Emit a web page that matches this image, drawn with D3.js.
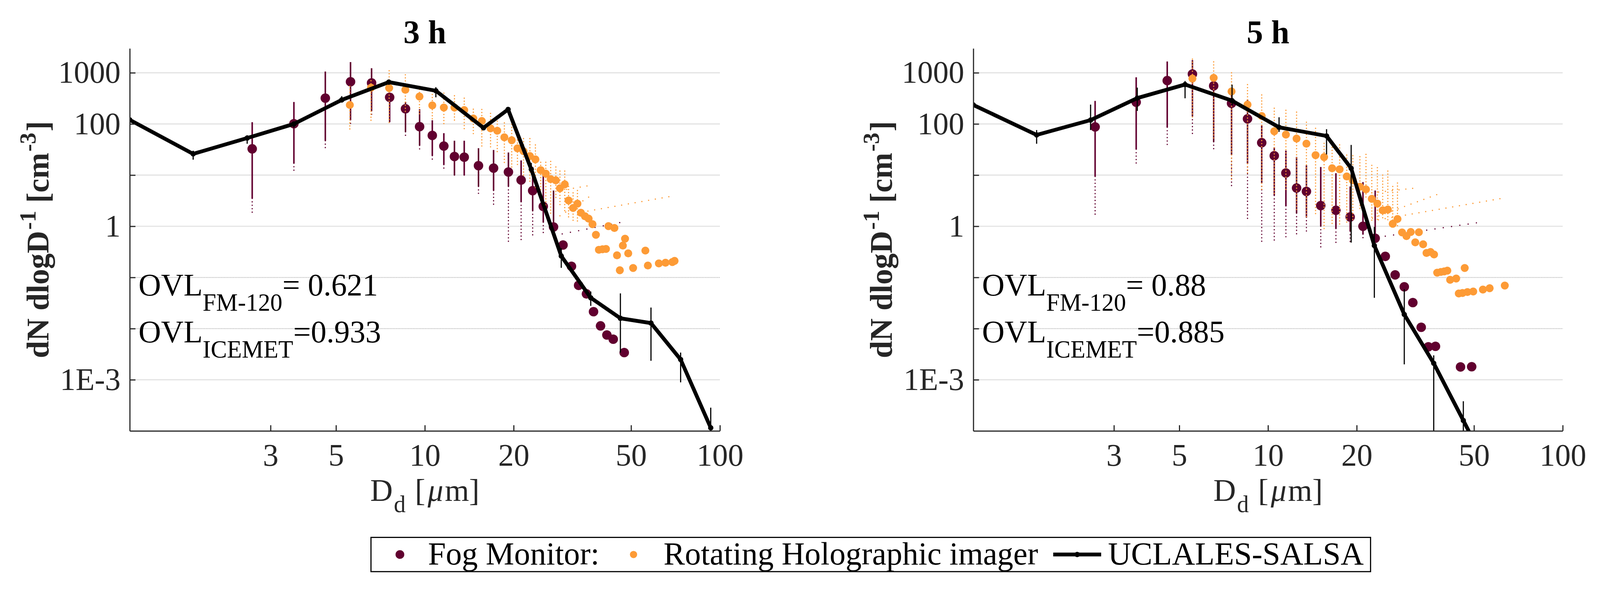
<!DOCTYPE html>
<html>
<head>
<meta charset="utf-8">
<script src="https://cdn.jsdelivr.net/npm/d3@7"></script>
<style>
  html, body { margin: 0; padding: 0; overflow: hidden; background: #fff; }
  #chart { display: block; width: 100vw; height: 100vh; }
  text { font-family: "Liberation Serif", "Times New Roman", serif; }
</style>
</head>
<body>
<svg id="chart"></svg>
<script>
// Figure size (matches the reference picture)
const WIDTH = 4205
const HEIGHT = 1519

// Plot box, shared vertical extent
const TOP = 107
const BOTTOM = 1113

// ---- UCLALES-SALSA model (diameters in um, dN/dlogD in cm^-3)
const salsaD = [1, 1.64, 2.5, 3.6, 5.23, 7.55, 10.9, 15.8, 19.15, 22.95, 29.0, 36.5, 46.0, 58.4, 73.6, 93.1]
const salsa3h = [120, 26, 53, 100, 295, 657, 445, 84, 192, 12.96, 0.262, 0.040, 0.0159, 0.0128, 0.00249, 1.15e-4]
const salsa3hHi = [null, 30, 60, 112, 349, 737, 523, 94, 206, 17.3, 0.373, 0.053, 0.0488, 0.0258, 0.0034, 2.85e-4]
const salsa3hLo = [null, 20, 41, 84, 263, 609, 331, 75, 173, 11.6, 0.154, 0.0278, 0.0034, 0.00235, 0.00089, 1e-4]
const salsa5h = [235, 61, 119, 320, 590, 285, 86, 58.3, 13.6, 0.42, 0.0189, 0.0021, 1.6e-4, 1.1e-5]
const salsa5hHi = [null, 76, 239, 512, 692, 588, 135, 79, 38.9, 0.97, 0.059, 0.003, 3.8e-4, null]
const salsa5hLo = [null, 41, 76, 180, 318, 230, 70, 25.4, 0.48, 0.04, 0.002, 1e-4, 1e-4, null]

// ---- Fog Monitor FM-120, 3 h
const fmD3h = [2.6, 3.6, 4.6, 5.6, 6.6, 7.6, 8.6, 9.6, 10.6, 11.6, 12.6, 13.6, 15.2, 17.1, 19.2, 21.2, 23.2, 25.2, 27.3, 29.4, 31.4, 33.2, 35.3, 37.3, 39.4, 41.4, 43.5, 47.4]
const fm3h = [32.6, 101, 319, 668, 633, 331, 198, 88.5, 59.6, 37, 23.1, 22.4, 15.3, 13.7, 11.5, 8.0, 4.97, 2.44, 0.97, 0.43, 0.165, 0.07, 0.0477, 0.0214, 0.0113, 0.0075, 0.0062, 0.0034]
const fm3hHi = [108, 269, 1060, 1617, 1229, 400, 270, 194, 118, 66, 47, 47, 33.6, 31, 27.7, 19.4, 14.4, 13, 5]
const fm3hLo = [3.5, 17, 47, 120, 180, 110, 70, 38, 24, 16, 10, 10, 6, 5, 6, 3, 2, 1.2, 0.97]
const fm3hMin = [1.65, 11.6, 30, 94, 149, 98, 60, 32, 20.5, 13, 8.9, 8.9, 4.3, 2.6, 0.5, 0.55, 0.6, 0.65, 0.97]

// ---- Fog Monitor FM-120, 5 h
const fmD5h = [2.59, 3.57, 4.55, 5.54, 6.54, 7.52, 8.52, 9.52, 10.5, 11.5, 12.5, 13.5, 15.1, 17.0, 19.0, 21.0, 23.1, 25.0, 27.0, 29.0, 31.0, 33.1, 35.0, 37.0, 45.0, 49.1]
const fm5h = [87.5, 266, 703, 944, 555, 253, 126, 43, 23.9, 11.0, 5.6, 4.8, 2.54, 2.05, 1.52, 1.0, 0.583, 0.258, 0.112, 0.0656, 0.0322, 0.0106, 0.0044, 0.0045, 0.00178, 0.0018]
const fm5hHi = [282, 815, 1660, 1770, 900, 450, 300, 95, 35, 30, 22.7, 15.5, 14.4, 10.9, 6, 7.3, 5]
const fm5hLo = [9.4, 32, 86, 141, 44.8, 25, 16.8, 7, 4, 2.5, 1.8, 1.5, 1.0, 0.9, 0.8, 0.7, 0.65]
const fm5hMin = [1.57, 17, 39.6, 63, 31.6, 6.1, 1.35, 0.5, 0.53, 0.6, 0.64, 0.71, 0.39, 0.44, 0.5, 0.55, 0.6]

// ---- Rotating holographic imager (ICEMET), 3 h
const icD3h = [5.57, 6.57, 7.57, 8.59, 9.59, 10.6, 11.6, 12.6, 13.6, 14.6, 15.6, 16.7, 17.6, 18.6, 19.7, 20.6, 21.6, 22.7, 23.7, 24.7, 25.7, 26.7, 27.8, 28.7, 29.8, 30.7, 31.8, 32.9, 33.8, 34.9, 35.9, 37.0, 38.0, 38.9, 40.0, 41.1, 41.9, 43.9, 44.8, 45.8, 46.9, 47.7, 48.9, 50.8, 55.9, 57.0, 62.1, 65.4, 69.0, 70.2]
const ic3h = [235, 511, 503, 466, 344, 230, 209, 209, 187, 128, 114, 82, 73.7, 54.7, 48.1, 33.3, 29.3, 23.6, 20.3, 12.5, 10.7, 8.35, 7.9, 5.53, 6.6, 3.2, 2.28, 2.76, 1.84, 1.57, 1.41, 1.10, 0.68, 0.347, 0.355, 0.36, 1.007, 0.925, 0.271, 0.138, 0.42, 0.571, 0.295, 0.153, 0.335, 0.171, 0.188, 0.194, 0.2, 0.211]
const ic3hHi = [543, 700, 1095, 913, 543, 377, 400, 356, 319, 194, 192, 161, 130, 105, 98, 55.5, 51.7, 51.7, 38.9, 17.8, 17.8, 18.5, 14.4, 12, 12, 6, 4.5, 5]
const ic3hLo = [77.8, 118, 98, 173, 150, 118, 94, 113, 75, 62, 36, 33.8, 25.5, 16.6, 13.4, 15.5, 9.4, 7.6, 5.7, 3.3, 2.6, 1.8, 3.2, 2.5, 2, 1.5, 1.2, 1.2]

// ---- Rotating holographic imager (ICEMET), 5 h
const icD5h = [5.54, 6.54, 7.52, 8.52, 9.52, 10.5, 11.5, 12.5, 13.5, 14.5, 15.5, 16.5, 17.5, 18.5, 19.4, 20.5, 21.5, 22.5, 23.5, 24.5, 25.5, 26.5, 27.5, 28.5, 29.5, 30.5, 31.6, 32.5, 33.6, 34.5, 35.6, 36.6, 37.5, 38.6, 39.6, 40.6, 41.5, 43.5, 44.4, 45.7, 46.5, 47.5, 49.7, 53.6, 56.5, 63.6]
const ic5h = [770, 796, 431, 239, 143, 72, 62, 51.7, 41.2, 24.5, 22.5, 13.6, 12.96, 9.42, 7.9, 5.94, 5.26, 3.44, 2.78, 2.05, 2.12, 1.12, 1.39, 0.758, 0.644, 0.774, 0.485, 0.765, 0.445, 0.301, 0.315, 0.281, 0.124, 0.128, 0.131, 0.136, 0.090, 0.095, 0.0486, 0.0497, 0.153, 0.0518, 0.053, 0.058, 0.0615, 0.0694]
const ic5hHi = [1850, 1633, 1000, 588, 369, 203, 185, 170, 108, 82, 41.8, 40, 39, 24.6, 24, 22.9, 25.4, 15.5, 14, 10, 12, 6, 7]
const ic5hLo = [130, 48.6, 8, 10.4, 5, 4, 5, 2, 1.4, 1.6, 0.9, 1.0, 0.97, 1.2, 1.2, 2, 3.3, 1.2, 1.2, 1.3, 1.2, 0.9, 0.9]

// faint dotted streaks of single-sample points (start and end of each streak)
const icTrails3h = [[[28.7, 1.6], [37.1, 4.2]], [[35.7, 1.98], [70.2, 3.96]], [[28.7, 5], [35.8, 6.2]]]
const fmTrails3h = [[[27.4, 0.66], [47.5, 1.23]]]
const icTrails5h = [[[21.5, 1.29], [37.4, 4.16]], [[23.7, 1.34], [63.8, 3.6]], [[22.5, 4.5], [32.6, 5.7]]]
const fmTrails5h = [[[25, 0.64], [52.7, 1.2]]]

// overlap coefficients printed in each panel
const ovlFM = ["= 0.621", "= 0.88"]
const ovlIC = ["=0.933", "=0.885"]
const titles = ["3 h", "5 h"]

// axis ticks
const xTicks = [3, 5, 10, 20, 50, 100]
const yTicks = [1000, 100, 10, 1, 0.1, 0.01, 0.001]
const yLabels = { 1000: "1000", 100: "100", 1: "1", 0.001: "1E-3" }
const dottedGrid = [0.1, 0.01]

const MAROON = "#61002f"
const ORANGE = "#fd9b36"
const AXIS = "#262626"

// viewBox keeps the whole figure inside whatever viewport the page gets
const svg = d3.select("#chart")
  .attr("viewBox", `0 0 ${WIDTH} ${HEIGHT}`)
  .attr("preserveAspectRatio", "xMidYMid meet")

const panels = [
  { left: 341, right: 1892, salsa: salsa3h, salsaHi: salsa3hHi, salsaLo: salsa3hLo,
    fmD: fmD3h, fm: fm3h, fmHi: fm3hHi, fmLo: fm3hLo, fmMin: fm3hMin,
    icD: icD3h, ic: ic3h, icHi: ic3hHi, icLo: ic3hLo, icTrails: icTrails3h, fmTrails: fmTrails3h },
  { left: 2558, right: 4107, salsa: salsa5h, salsaHi: salsa5hHi, salsaLo: salsa5hLo,
    fmD: fmD5h, fm: fm5h, fmHi: fm5hHi, fmLo: fm5hLo, fmMin: fm5hMin,
    icD: icD5h, ic: ic5h, icHi: ic5hHi, icLo: ic5hLo, icTrails: icTrails5h, fmTrails: fmTrails5h },
]

panels.forEach((p, k) => {
  const x = d3.scaleLog().domain([1, 100]).range([p.left, p.right])
  const y = d3.scaleLog().domain([1e-4, 3000]).range([BOTTOM, TOP])
  const g = svg.append("g")

  const clipId = "clip" + k
  svg.append("clipPath").attr("id", clipId)
    .append("rect")
    .attr("x", p.left).attr("y", TOP)
    .attr("width", p.right - p.left).attr("height", BOTTOM - TOP)

  // grid lines
  g.selectAll(".grid").data(yTicks).join("line")
    .attr("x1", p.left).attr("x2", p.right)
    .attr("y1", (d) => y(d)).attr("y2", (d) => y(d))
    .attr("stroke", (d) => dottedGrid.includes(d) ? "#a8a8a8" : "#e3e3e3")
    .attr("stroke-width", (d) => dottedGrid.includes(d) ? 2 : 3)
    .attr("stroke-dasharray", (d) => dottedGrid.includes(d) ? "2,2" : null)

  // OVL annotation (drawn under the data)
  const ovl = g.append("g").attr("font-size", 82).attr("fill", "#000")
  const t1 = ovl.append("text").attr("x", p.left + 23).attr("y", 757)
  t1.append("tspan").text("OVL")
  t1.append("tspan").attr("dy", 40).attr("font-size", 64).text("FM-120")
  t1.append("tspan").attr("dy", -40).text(ovlFM[k])
  const t2 = ovl.append("text").attr("x", p.left + 23).attr("y", 880)
  t2.append("tspan").text("OVL")
  t2.append("tspan").attr("dy", 40).attr("font-size", 64).text("ICEMET")
  t2.append("tspan").attr("dy", -40).text(ovlIC[k])

  const plot = g.append("g").attr("clip-path", `url(#${clipId})`)

  // Fog monitor error bars: solid core and dotted tail
  const fmBars = p.fmHi.map((hi, i) => ({ x: p.fmD[i], hi, lo: p.fmLo[i], min: p.fmMin[i] }))
  plot.selectAll(".fmbar").data(fmBars).join("line")
    .attr("x1", (d) => x(d.x)).attr("x2", (d) => x(d.x))
    .attr("y1", (d) => y(d.hi)).attr("y2", (d) => y(d.lo))
    .attr("stroke", MAROON).attr("stroke-width", 4)
  plot.selectAll(".fmtail").data(fmBars).join("line")
    .attr("x1", (d) => x(d.x)).attr("x2", (d) => x(d.x))
    .attr("y1", (d) => y(d.lo)).attr("y2", (d) => y(d.min))
    .attr("stroke", MAROON).attr("stroke-width", 3.5)
    .attr("stroke-linecap", "round").attr("stroke-dasharray", "0,9")

  // dotted streaks
  const streak = d3.line().x((d) => x(d[0])).y((d) => y(d[1]))
  plot.selectAll(".fmtrail").data(p.fmTrails).join("path")
    .attr("d", streak).attr("fill", "none")
    .attr("stroke", MAROON).attr("stroke-width", 3.5)
    .attr("stroke-linecap", "round").attr("stroke-dasharray", "0,22")

  // Fog monitor markers
  plot.selectAll(".fm").data(p.fm).join("circle")
    .attr("cx", (d, i) => x(p.fmD[i])).attr("cy", (d) => y(d))
    .attr("r", 12.5).attr("fill", MAROON)

  // ICEMET dotted error bars
  const icBars = p.icHi.map((hi, i) => ({ x: p.icD[i], hi, lo: p.icLo[i] }))
  plot.selectAll(".icbar").data(icBars).join("line")
    .attr("x1", (d) => x(d.x)).attr("x2", (d) => x(d.x))
    .attr("y1", (d) => y(d.hi)).attr("y2", (d) => y(d.lo))
    .attr("stroke", ORANGE).attr("stroke-width", 3.5)
    .attr("stroke-linecap", "round").attr("stroke-dasharray", "0,8")
  plot.selectAll(".ictrail").data(p.icTrails).join("path")
    .attr("d", streak).attr("fill", "none")
    .attr("stroke", ORANGE).attr("stroke-width", 3.5)
    .attr("stroke-linecap", "round").attr("stroke-dasharray", "0,18")

  // ICEMET markers
  plot.selectAll(".ic").data(p.ic).join("circle")
    .attr("cx", (d, i) => x(p.icD[i])).attr("cy", (d) => y(d))
    .attr("r", 10.5).attr("fill", ORANGE)

  // model error bars and line
  const salsaBars = p.salsa.map((v, i) => ({ x: salsaD[i], hi: p.salsaHi[i], lo: p.salsaLo[i] }))
    .filter((d) => d.hi != null)
  plot.selectAll(".sbar").data(salsaBars).join("line")
    .attr("x1", (d) => x(d.x)).attr("x2", (d) => x(d.x))
    .attr("y1", (d) => y(d.hi)).attr("y2", (d) => y(d.lo))
    .attr("stroke", "#000").attr("stroke-width", 3)

  const modelLine = d3.line().x((d, i) => x(salsaD[i])).y((d) => y(d))
  plot.append("path").datum(p.salsa)
    .attr("d", modelLine).attr("fill", "none")
    .attr("stroke", "#000").attr("stroke-width", 10).attr("stroke-linejoin", "round")
  plot.selectAll(".sdot").data(p.salsa).join("circle")
    .attr("cx", (d, i) => x(salsaD[i])).attr("cy", (d) => y(d))
    .attr("r", 7).attr("fill", "#000")

  // axes (left and bottom only, ticks pointing inward)
  const xAxis = d3.axisBottom(x).tickValues(xTicks).tickFormat(d3.format("d"))
    .tickSizeInner(-15).tickSizeOuter(0).tickPadding(33)
  const gx = g.append("g").attr("transform", `translate(0,${BOTTOM})`).call(xAxis)
  const yAxis = d3.axisLeft(y).tickValues(yTicks).tickFormat((d) => yLabels[d] || "")
    .tickSizeInner(-15).tickSizeOuter(0).tickPadding(24)
  const gy = g.append("g").attr("transform", `translate(${p.left},0)`).call(yAxis)
  for (const ax of [gx, gy]) {
    ax.select(".domain").attr("stroke", AXIS).attr("stroke-width", 3)
    ax.selectAll(".tick line").attr("stroke", AXIS).attr("stroke-width", 3)
    ax.selectAll(".tick text").attr("fill", AXIS).attr("font-size", 82)
      .attr("font-family", "Liberation Serif")
  }

  const cx = (p.left + p.right) / 2

  // title
  g.append("text").attr("x", cx).attr("y", 94)
    .attr("text-anchor", "middle").attr("font-size", 86).attr("font-weight", "bold")
    .text(titles[k])

  // x label, kept clear of the tick labels above it
  const xl = g.append("text").attr("x", cx).attr("y", 1297)
    .attr("text-anchor", "middle").attr("font-size", 82).attr("fill", AXIS)
  xl.append("tspan").text("D")
  xl.append("tspan").attr("dx", 3).attr("dy", 30).attr("font-size", 62).text("d")
  xl.append("tspan").attr("dx", 4).attr("dy", -30).text(" [")
  xl.append("tspan").attr("dx", 6).attr("font-style", "italic").text("\u03bc")
  xl.append("tspan").attr("dx", 4).text("m]")

  // y label
  const yl = g.append("text")
    .attr("transform", `translate(${p.left - 214},${(TOP + BOTTOM) / 2}) rotate(-90)`)
    .attr("text-anchor", "middle").attr("font-size", 82).attr("font-weight", "bold").attr("fill", AXIS)
  yl.append("tspan").text("dN dlogD")
  yl.append("tspan").attr("dx", 3).attr("dy", -34).attr("font-size", 60).text("-1")
  yl.append("tspan").attr("dy", 34).text(" [cm")
  yl.append("tspan").attr("dx", 3).attr("dy", -34).attr("font-size", 60).text("-3")
  yl.append("tspan").attr("dx", 3).attr("dy", 34).text("]")
})

// legend
const LEG_X = 975
const LEG_Y = 1393
const LEG_W = 2627
const LEG_H = 90
const leg = svg.append("g")
leg.append("rect").attr("x", LEG_X).attr("y", LEG_Y).attr("width", LEG_W).attr("height", LEG_H)
  .attr("fill", "#fff").attr("stroke", "#000").attr("stroke-width", 3)
const legMid = LEG_Y + LEG_H / 2
leg.append("circle").attr("cx", 1051).attr("cy", legMid).attr("r", 11.5).attr("fill", MAROON)
leg.append("circle").attr("cx", 1665).attr("cy", legMid).attr("r", 9.5).attr("fill", ORANGE)
leg.append("line").attr("x1", 2768).attr("x2", 2894).attr("y1", legMid).attr("y2", legMid)
  .attr("stroke", "#000").attr("stroke-width", 10)
leg.append("circle").attr("cx", 2831).attr("cy", legMid).attr("r", 7).attr("fill", "#000")
const legendItems = [
  { x: 1125, text: "Fog Monitor:" },
  { x: 1744, text: "Rotating Holographic imager" },
  { x: 2912, text: "UCLALES-SALSA" },
]
leg.selectAll(".lt").data(legendItems).join("text")
  .attr("x", (d) => d.x).attr("y", 1464)
  .attr("font-size", 84).attr("fill", "#000")
  .text((d) => d.text)
</script>
</body>
</html>
